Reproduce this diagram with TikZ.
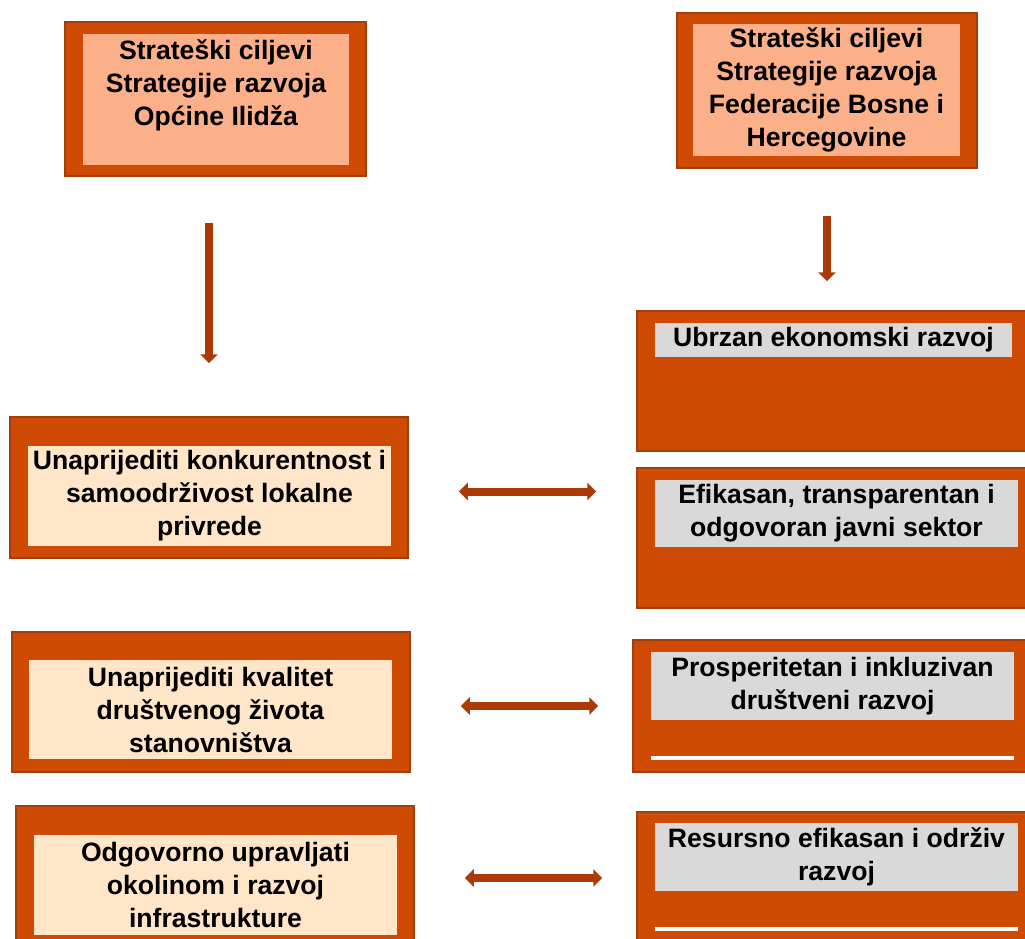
\documentclass[tikz,border=0pt]{standalone}
\usepackage{fontspec}
\setmainfont{Liberation Sans}
\usetikzlibrary{arrows.meta}
\definecolor{boxorange}{RGB}{207,74,2}
\definecolor{boxedge}{RGB}{160,62,14}
\definecolor{salmon}{RGB}{251,176,138}
\definecolor{cream}{RGB}{255,230,201}
\definecolor{panelgray}{RGB}{217,217,217}
\definecolor{arrowbrown}{RGB}{172,58,6}

\begin{document}
\begin{tikzpicture}[x=1pt, y=-1pt,
  outerbox/.style={draw=boxedge, line width=1.5pt, fill=boxorange, inner sep=0pt},
  textbox/.style={inner sep=0pt, align=center, font=\fontsize{26.6}{33}\selectfont\bfseries},
  link/.style={draw=arrowbrown, line width=8pt, -{Triangle[width=17pt,length=9pt]}},
  duallink/.style={draw=arrowbrown, line width=8pt, {Triangle[width=17pt,length=9pt]}-{Triangle[width=17pt,length=9pt]}}]

\useasboundingbox (0,0) rectangle (1025,939);
\clip (0,0) rectangle (1025,939);

% Top boxes
\node[outerbox, minimum width=301pt, minimum height=154pt] (tl) at (215.5,99) {};
\node[textbox, fill=salmon, minimum width=266pt, minimum height=131pt] (tlin) at (216,99.5)
  {Strateški ciljevi\\Strategije razvoja\\Općine Ilidža\\\mbox{}};
\node[outerbox, minimum width=300pt, minimum height=155pt] (tr) at (827,90.5) {};
\node[textbox, fill=salmon, minimum width=267pt, minimum height=132pt] (trin) at (826.5,90)
  {Strateški ciljevi\\Strategije razvoja\\Federacije Bosne i\\Hercegovine};

% Left column (Općina)
\node[outerbox, minimum width=398pt, minimum height=141pt] (l1) at (209,487.5) {};
\node[textbox, fill=cream, minimum width=363pt, minimum height=100pt] (l1in) at (209.5,496)
  {Unaprijediti konkurentnost i\\samoodrživost lokalne\\privrede};
\node[outerbox, minimum width=398pt, minimum height=140pt] (l2) at (211,702) {};
\node[textbox, fill=cream, minimum width=363pt, minimum height=99pt] (l2in) at (210.5,709.5)
  {Unaprijediti kvalitet\\društvenog života\\stanovništva};
\node[outerbox, minimum width=398pt, minimum height=140pt] (l3) at (215,876) {};
\node[textbox, fill=cream, minimum width=363pt, minimum height=100pt] (l3in) at (215.5,885)
  {Odgovorno upravljati\\okolinom i razvoj\\infrastrukture};

% Right column (Federacija)
\node[outerbox, minimum width=399pt, minimum height=140pt] (r1) at (836.5,381) {};
\node[textbox, fill=panelgray, minimum width=357pt, minimum height=34pt] (r1in) at (833.5,340)
  {Ubrzan ekonomski razvoj};
\node[outerbox, minimum width=399pt, minimum height=140pt] (r2) at (836.5,538) {};
\node[textbox, fill=panelgray, minimum width=363pt, minimum height=67pt] (r2in) at (836.5,513.5)
  {Efikasan, transparentan i\\odgovoran javni sektor};
\node[outerbox, minimum width=399pt, minimum height=132pt] (r3) at (832.5,706) {};
\node[textbox, fill=panelgray, minimum width=363pt, minimum height=68pt] (r3in) at (832.5,686)
  {Prosperitetan i inkluzivan\\društveni razvoj};
\node[outerbox, minimum width=399pt, minimum height=140pt] (r4) at (836.5,882) {};
\node[textbox, fill=panelgray, minimum width=363pt, minimum height=68pt] (r4in) at (836.5,857)
  {Resursno efikasan i održiv\\razvoj};

% empty bars
\fill[white!90!panelgray] (651,756) rectangle (1014,760);
\fill[white!90!panelgray] (655,927) rectangle (1018,931);

% Arrows
\draw[link, shorten <=46pt, shorten >=53pt] (tl.south -| l1.north) -- (l1.north);
\draw[link, shorten <=47pt, shorten >=29pt] (tr.south) -- (tr.south |- r1.north);
\foreach \from/\to/\dy/\gap in {l1/r2/-4/40, l2/r3/-4/34, l3/r4/-2/34} {
  \draw[duallink, shorten <=50pt, shorten >=\gap pt]
    ([yshift=\dy pt]\from.east) -- ([yshift=\dy pt]\from.east -| \to.west);
}

\end{tikzpicture}
\end{document}
